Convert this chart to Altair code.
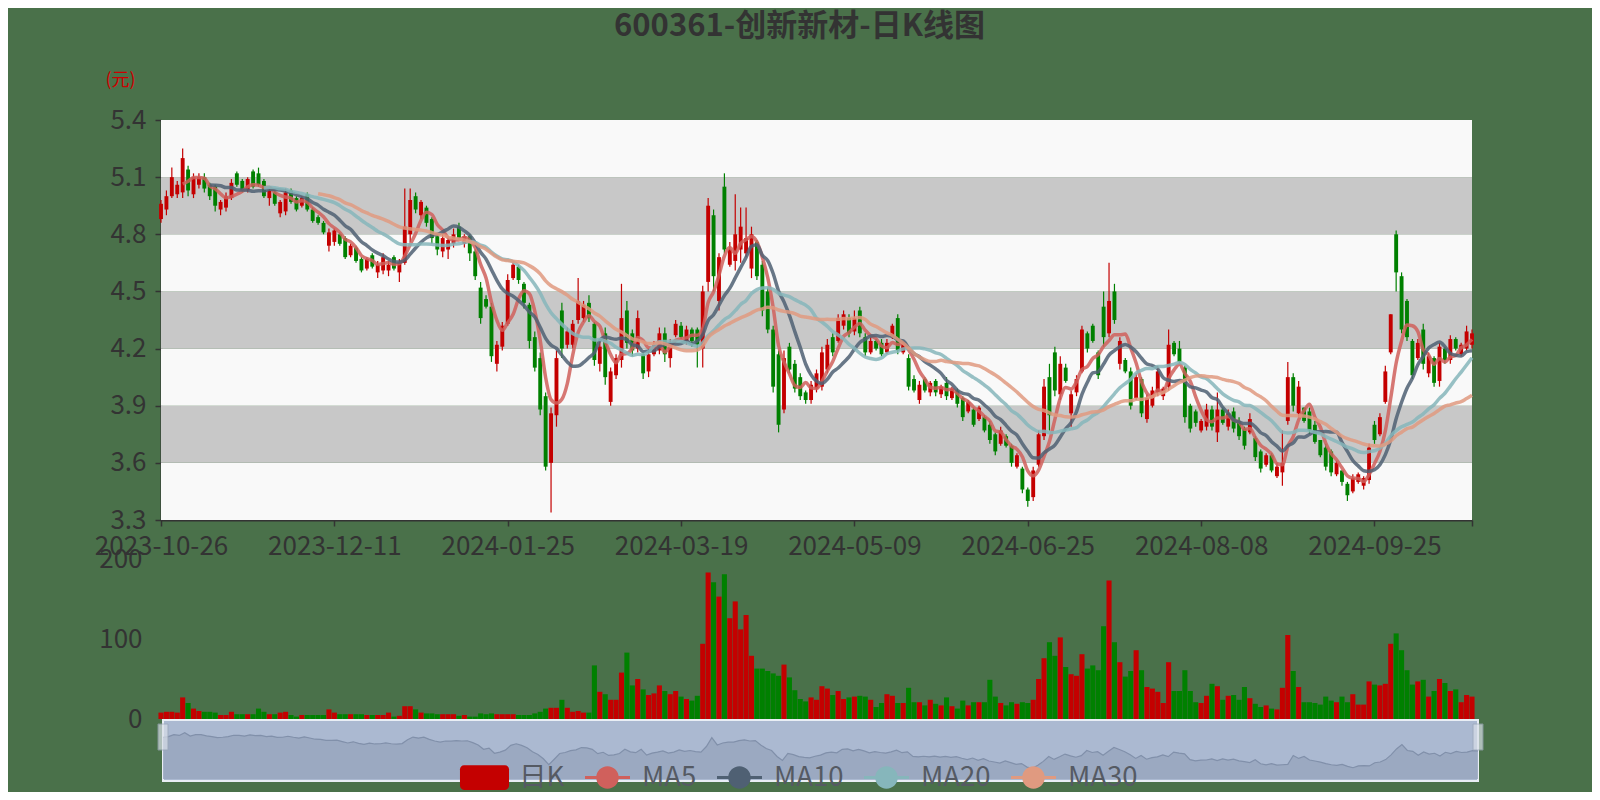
import json
import altair as alt
import pandas as pd

FONT = "Noto Sans CJK SC"

title_text = "600361-创新新材-日K线图"
unit_label = "(元)"
date_labels = ["2023-10-26", "2023-12-11", "2024-01-25", "2024-03-19",
               "2024-05-09", "2024-06-25", "2024-08-08", "2024-09-25"]
label_step = 32
price_ticks = [3.3, 3.6, 3.9, 4.2, 4.5, 4.8, 5.1, 5.4]
volume_ticks = [0, 100, 200]
series_names = ["日K", "MA5", "MA10", "MA20", "MA30"]
ma_windows = [5, 10, 20, 30]

open_ = [4.88, 4.93, 5.00, 5.01, 5.02, 5.14, 5.01, 5.06, 5.10, 5.06,
         5.05, 4.93, 4.94, 4.99, 5.12, 5.08, 5.03, 5.13, 5.12, 5.08,
         4.99, 5.02, 4.91, 4.92, 5.03, 4.99, 4.95, 5.01, 4.93, 4.89,
         4.86, 4.74, 4.76, 4.80, 4.78, 4.69, 4.73, 4.67, 4.62, 4.69,
         4.60, 4.61, 4.61, 4.68, 4.60, 4.65, 4.80, 5.00, 4.90, 4.94,
         4.88, 4.79, 4.71, 4.72, 4.75, 4.84, 4.75, 4.79, 4.71, 4.52,
         4.46, 4.42, 4.12, 4.21, 4.33, 4.57, 4.63, 4.54, 4.43, 4.26,
         4.15, 3.95, 3.60, 3.85, 4.40, 4.22, 4.22, 4.35, 4.36, 4.44,
         4.33, 4.12, 4.28, 3.92, 4.06, 4.14, 4.40, 4.28, 4.20, 4.17,
         4.08, 4.17, 4.19, 4.28, 4.15, 4.27, 4.32, 4.24, 4.30, 4.30,
         4.20, 4.55, 4.90, 4.45, 5.05, 4.64, 4.66, 4.72, 4.70, 4.62,
         4.76, 4.64, 4.50, 4.30, 4.17, 3.88, 4.21, 4.12, 4.05, 3.97,
         3.93, 3.99, 4.00, 4.09, 4.26, 4.24, 4.32, 4.36, 4.29, 4.40,
         4.26, 4.18, 4.24, 4.23, 4.18, 4.26, 4.36, 4.18, 4.15, 4.04,
         3.93, 4.04, 3.97, 4.03, 3.96, 4.02, 3.94, 3.98, 3.94, 3.87,
         3.88, 3.83, 3.84, 3.80, 3.75, 3.70, 3.74, 3.69, 3.58, 3.57,
         3.46, 3.42, 3.59, 3.74, 4.05, 4.18, 3.96, 4.10, 3.86, 3.97,
         4.08, 4.28, 4.32, 4.18, 4.42, 4.28, 4.50, 4.12, 4.14, 4.08,
         3.94, 4.04, 3.83, 3.90, 3.97, 3.95, 4.00, 4.23, 4.20, 4.10,
         3.90, 3.87, 3.77, 3.79, 3.88, 3.76, 3.88, 3.79, 3.87, 3.82,
         3.78, 3.76, 3.73, 3.66, 3.59, 3.64, 3.53, 3.55, 3.82, 4.05,
         3.86, 3.89, 3.87, 3.80, 3.72, 3.68, 3.66, 3.54, 3.56, 3.49,
         3.45, 3.50, 3.48, 3.51, 3.80, 3.75, 3.92, 4.18, 4.80, 4.58,
         4.45, 4.24, 4.15, 4.30, 4.07, 4.15, 4.03, 4.20, 4.14, 4.25,
         4.17, 4.20, 4.22]

close = [4.96, 5.00, 5.10, 5.06, 5.20, 5.03, 5.10, 5.10, 5.04, 5.00,
         4.95, 4.97, 5.00, 5.07, 5.06, 5.03, 5.09, 5.05, 5.06, 5.00,
         5.03, 4.96, 4.97, 5.02, 4.97, 4.93, 4.99, 4.93, 4.87, 4.86,
         4.81, 4.81, 4.82, 4.75, 4.68, 4.74, 4.66, 4.61, 4.67, 4.63,
         4.64, 4.68, 4.64, 4.62, 4.65, 4.84, 4.98, 4.93, 4.97, 4.86,
         4.78, 4.72, 4.78, 4.77, 4.80, 4.78, 4.79, 4.70, 4.58, 4.36,
         4.42, 4.16, 4.22, 4.32, 4.56, 4.64, 4.56, 4.44, 4.24, 4.10,
         3.88, 3.58, 3.86, 4.15, 4.20, 4.29, 4.33, 4.45, 4.43, 4.36,
         4.14, 4.21, 4.05, 4.08, 4.15, 4.36, 4.23, 4.19, 4.36, 4.07,
         4.17, 4.22, 4.28, 4.17, 4.22, 4.33, 4.26, 4.30, 4.24, 4.22,
         4.50, 4.95, 4.58, 4.68, 4.72, 4.72, 4.80, 4.84, 4.78, 4.80,
         4.58, 4.40, 4.30, 4.00, 3.80, 4.15, 4.09, 3.99, 3.95, 3.93,
         4.01, 4.07, 4.18, 4.22, 4.18, 4.36, 4.38, 4.28, 4.36, 4.28,
         4.18, 4.24, 4.20, 4.17, 4.23, 4.32, 4.19, 4.23, 4.00, 3.98,
         4.01, 3.98, 4.02, 3.97, 4.00, 3.95, 3.99, 3.91, 3.84, 3.92,
         3.80, 3.89, 3.77, 3.72, 3.66, 3.77, 3.69, 3.60, 3.64, 3.46,
         3.40, 3.56, 3.75, 4.00, 3.85, 3.98, 4.12, 4.03, 3.96, 4.04,
         4.30, 4.20, 4.24, 4.06, 4.26, 4.45, 4.35, 4.24, 4.08, 3.90,
         4.05, 3.86, 3.94, 3.98, 4.08, 3.99, 4.22, 4.17, 4.13, 3.84,
         3.78, 3.81, 3.82, 3.88, 3.79, 3.88, 3.81, 3.86, 3.78, 3.74,
         3.69, 3.83, 3.63, 3.57, 3.64, 3.56, 3.58, 3.60, 4.05, 3.90,
         4.00, 3.82, 3.77, 3.71, 3.64, 3.58, 3.55, 3.60, 3.50, 3.43,
         3.52, 3.54, 3.52, 3.68, 3.72, 3.84, 4.08, 4.38, 4.60, 4.30,
         4.26, 4.06, 4.23, 4.12, 4.16, 4.02, 4.21, 4.14, 4.25, 4.20,
         4.22, 4.29, 4.28]

high = [4.98, 5.03, 5.15, 5.08, 5.25, 5.16, 5.12, 5.12, 5.12, 5.07,
        5.06, 4.98, 5.02, 5.09, 5.13, 5.09, 5.10, 5.14, 5.15, 5.09,
        5.04, 5.03, 4.98, 5.04, 5.04, 5.00, 5.00, 5.02, 4.94, 4.90,
        4.87, 4.83, 4.83, 4.81, 4.79, 4.75, 4.74, 4.68, 4.68, 4.70,
        4.66, 4.70, 4.66, 4.69, 4.67, 5.04, 5.04, 5.02, 4.98, 4.95,
        4.89, 4.80, 4.80, 4.79, 4.83, 4.86, 4.80, 4.80, 4.72, 4.55,
        4.48, 4.44, 4.24, 4.34, 4.59, 4.66, 4.64, 4.55, 4.44, 4.29,
        4.18, 3.97, 3.89, 4.19, 4.44, 4.31, 4.35, 4.57, 4.45, 4.48,
        4.34, 4.24, 4.31, 4.10, 4.17, 4.54, 4.45, 4.30, 4.40, 4.18,
        4.20, 4.24, 4.31, 4.31, 4.25, 4.35, 4.34, 4.32, 4.31, 4.31,
        4.53, 4.99, 4.93, 4.70, 5.12, 4.76, 5.01, 4.94, 4.94, 4.84,
        4.77, 4.66, 4.52, 4.32, 4.19, 4.19, 4.23, 4.14, 4.07, 3.98,
        4.03, 4.09, 4.21, 4.25, 4.28, 4.38, 4.40, 4.38, 4.40, 4.42,
        4.28, 4.26, 4.25, 4.25, 4.25, 4.33, 4.38, 4.24, 4.17, 4.06,
        4.03, 4.05, 4.03, 4.04, 4.01, 4.05, 4.00, 3.99, 3.95, 3.93,
        3.89, 3.90, 3.85, 3.82, 3.76, 3.79, 3.75, 3.70, 3.65, 3.58,
        3.47, 3.58, 3.77, 4.04, 4.12, 4.21, 4.16, 4.12, 3.98, 4.06,
        4.32, 4.29, 4.33, 4.19, 4.50, 4.65, 4.54, 4.26, 4.15, 4.10,
        4.07, 4.05, 3.96, 4.00, 4.11, 4.00, 4.30, 4.24, 4.24, 4.11,
        3.91, 3.88, 3.83, 3.91, 3.90, 3.97, 3.89, 3.88, 3.89, 3.84,
        3.79, 3.86, 3.74, 3.67, 3.65, 3.65, 3.60, 3.77, 4.13, 4.07,
        4.03, 3.89, 3.89, 3.82, 3.72, 3.70, 3.67, 3.61, 3.56, 3.50,
        3.54, 3.55, 3.53, 3.70, 3.82, 3.86, 4.11, 4.38, 4.82, 4.60,
        4.46, 4.25, 4.25, 4.33, 4.18, 4.16, 4.23, 4.21, 4.27, 4.26,
        4.23, 4.32, 4.30]

low = [4.86, 4.90, 4.99, 4.99, 4.99, 5.00, 4.99, 5.04, 5.02, 4.98,
       4.92, 4.90, 4.92, 4.98, 5.05, 5.02, 5.02, 5.04, 5.05, 4.99,
       4.95, 4.95, 4.89, 4.90, 4.96, 4.92, 4.94, 4.92, 4.86, 4.85,
       4.80, 4.71, 4.74, 4.74, 4.67, 4.68, 4.65, 4.60, 4.61, 4.62,
       4.57, 4.59, 4.58, 4.61, 4.55, 4.64, 4.76, 4.91, 4.88, 4.84,
       4.75, 4.69, 4.68, 4.67, 4.73, 4.77, 4.73, 4.66, 4.56, 4.33,
       4.41, 4.13, 4.08, 4.19, 4.32, 4.56, 4.54, 4.41, 4.20, 4.08,
       3.85, 3.56, 3.34, 3.79, 4.15, 4.20, 4.20, 4.33, 4.34, 4.34,
       4.11, 4.08, 4.01, 3.90, 4.04, 4.10, 4.20, 4.16, 4.18, 4.04,
       4.05, 4.16, 4.17, 4.13, 4.10, 4.26, 4.25, 4.22, 4.21, 4.10,
       4.10, 4.50, 4.50, 4.40, 4.70, 4.63, 4.61, 4.65, 4.68, 4.57,
       4.56, 4.37, 4.28, 3.97, 3.76, 3.86, 4.07, 3.97, 3.93, 3.91,
       3.91, 3.97, 3.98, 4.07, 4.16, 4.23, 4.30, 4.26, 4.27, 4.26,
       4.16, 4.17, 4.19, 4.16, 4.17, 4.25, 4.17, 4.17, 3.98, 3.97,
       3.91, 3.97, 3.95, 3.95, 3.94, 3.93, 3.93, 3.89, 3.82, 3.86,
       3.79, 3.82, 3.76, 3.70, 3.64, 3.69, 3.68, 3.58, 3.57, 3.44,
       3.37, 3.40, 3.58, 3.72, 3.77, 3.95, 3.93, 4.02, 3.79, 3.95,
       4.07, 4.18, 4.23, 4.04, 4.21, 4.26, 4.33, 4.09, 4.07, 3.88,
       3.93, 3.84, 3.81, 3.89, 3.95, 3.93, 3.98, 4.16, 4.12, 3.81,
       3.76, 3.79, 3.76, 3.77, 3.77, 3.71, 3.80, 3.77, 3.76, 3.72,
       3.67, 3.75, 3.61, 3.55, 3.58, 3.55, 3.52, 3.48, 3.80, 3.87,
       3.84, 3.81, 3.75, 3.70, 3.63, 3.56, 3.53, 3.53, 3.48, 3.40,
       3.44, 3.49, 3.46, 3.49, 3.70, 3.74, 3.91, 4.17, 4.50, 4.28,
       4.24, 4.04, 4.14, 4.09, 4.05, 4.00, 4.00, 4.12, 4.12, 4.19,
       4.16, 4.19, 4.20]

volume = [8, 9, 9, 8, 27, 20, 13, 10, 9, 9,
          8, 5, 5, 9, 6, 6, 6, 6, 13, 9,
          6, 6, 8, 9, 5, 3, 5, 5, 5, 5,
          5, 12, 8, 6, 6, 6, 6, 6, 5, 5,
          5, 5, 8, 3, 4, 16, 16, 12, 8, 7,
          7, 6, 6, 6, 6, 4, 5, 3, 3, 7,
          6, 7, 6, 6, 6, 6, 5, 5, 5, 7,
          9, 13, 14, 14, 24, 14, 9, 10, 8, 8,
          67, 34, 31, 24, 24, 58, 83, 42, 50, 37,
          30, 32, 42, 35, 31, 35, 28, 25, 23, 29,
          94, 183, 171, 153, 181, 126, 147, 112, 130, 79,
          63, 63, 60, 57, 54, 68, 52, 36, 25, 22,
          27, 24, 41, 38, 30, 35, 25, 27, 28, 29,
          28, 24, 15, 20, 31, 29, 20, 20, 39, 21,
          21, 17, 24, 19, 17, 27, 16, 13, 23, 17,
          21, 21, 21, 49, 28, 20, 17, 21, 19, 21,
          20, 24, 50, 76, 96, 79, 102, 65, 56, 54,
          81, 63, 67, 61, 116, 173, 96, 71, 53, 60,
          86, 61, 40, 38, 34, 20, 71, 35, 35, 61,
          35, 21, 20, 29, 44, 41, 24, 29, 30, 24,
          40, 26, 19, 15, 17, 13, 12, 39, 105, 60,
          40, 21, 21, 20, 18, 28, 23, 21, 28, 21,
          31, 18, 18, 47, 43, 42, 44, 94, 107, 86,
          61, 43, 47, 49, 28, 35, 50, 45, 35, 37,
          21, 30, 28]

# ---------------- styles ----------------
BG = "#4a714a"
UP = "#c40000"
DOWN = "#008000"
BAND_LIGHT = "#f9f9f9"
BAND_DARK = "#c8c8c8"
MA_COLORS = ["#d0605c", "#4f6073", "#86b6bb", "#e09a80"]
TEXT = "#333333"

W = 1311          # plot width
H = 661           # total layered height (price + volume + slider)
PRICE_H = 400
VOL_TOP, VOL_BOTTOM = 439, 599
SL_TOP, SL_BOTTOM = 600, 661

n = len(close)
df = pd.DataFrame({"i": list(range(n)), "open": open_, "close": close,
                   "high": high, "low": low, "volume": volume})
base = alt.Chart(df)

up_down = alt.when(alt.datum.close >= alt.datum.open).then(alt.value(UP)).otherwise(alt.value(DOWN))

# ---------------- price panel ----------------
x_scale = alt.Scale(domain=[0, n - 1], nice=False, zero=False, padding=0)
label_values = [k * label_step for k in range(len(date_labels))] + [n - 1]
x_axis = alt.Axis(values=label_values,
                  labelExpr=(f"datum.value % {label_step} == 0 ? "
                             f"{json.dumps(date_labels)}[round(datum.value / {label_step})] : ''"),
                  orient="bottom", offset=-(H - PRICE_H), grid=False,
                  domainColor=TEXT, domainWidth=2, tickColor=TEXT, tickWidth=1.5, tickSize=6,
                  labelFontSize=26, labelColor=TEXT, labelFont=FONT, labelPadding=7,
                  labelFlush=False, labelOverlap=False, title=None)
X = alt.X("i:Q", scale=x_scale, axis=x_axis)

price_scale = alt.Scale(domain=[price_ticks[0], price_ticks[-1]], range=[PRICE_H, 0],
                        nice=False, zero=False)
price_axis = alt.Axis(values=price_ticks, format=".1f", orient="left", grid=False,
                      domainColor=TEXT, domainWidth=2, tickColor=TEXT, tickWidth=1.5, tickSize=6,
                      labelFontSize=26, labelColor=TEXT, labelFont=FONT, labelPadding=9,
                      labelFlush=False,
                      title=unit_label, titleAngle=0, titleColor="#cc0000", titleFontSize=18,
                      titleFont=FONT, titleFontWeight="normal", titleX=-41, titleY=-40,
                      titleAlign="center", titleBaseline="middle")

bands_df = pd.DataFrame({"lo": price_ticks[:-1], "hi": price_ticks[1:],
                         "k": list(range(len(price_ticks) - 1))})
bands = alt.Chart(bands_df).mark_rect().encode(
    x=alt.value(0), x2=alt.value(W),
    y=alt.Y("lo:Q", scale=price_scale, axis=price_axis), y2="hi:Q",
    color=alt.when(alt.datum.k % 2 == 0).then(alt.value(BAND_LIGHT)).otherwise(alt.value(BAND_DARK)),
)

wicks = base.mark_rule(strokeWidth=1.2).encode(
    x=X, y=alt.Y("low:Q", scale=price_scale, axis=price_axis), y2="high:Q", color=up_down)
bodies = base.transform_calculate(b0="datum.i - 0.36", b1="datum.i + 0.36").mark_rect().encode(
    x=alt.X("b0:Q", scale=x_scale, axis=x_axis), x2="b1:Q",
    y=alt.Y("open:Q", scale=price_scale, axis=price_axis), y2="close:Q", color=up_down)

ma_layers = []
for w, c in zip(ma_windows, MA_COLORS):
    ma_layers.append(
        base.transform_window(ma="mean(close)", frame=[-(w - 1), 0], sort=[alt.SortField("i")])
        .transform_filter(alt.datum.i >= w - 1)
        .mark_line(color=c, strokeWidth=3.5, opacity=0.85, interpolate="monotone")
        .encode(x=X, y=alt.Y("ma:Q", scale=price_scale, axis=price_axis))
    )

# legend (native Vega legend, custom symbol paths)
rect_path = ("M-0.91,-0.55 L0.91,-0.55 A0.18,0.18 0 0 1 1.09,-0.37 L1.09,0.37 "
             "A0.18,0.18 0 0 1 0.91,0.55 L-0.91,0.55 A0.18,0.18 0 0 1 -1.09,0.37 "
             "L-1.09,-0.37 A0.18,0.18 0 0 1 -0.91,-0.55 Z")
line_path = ("M-1,-0.065 L1,-0.065 L1,0.065 L-1,0.065 Z "
             "M0.5,0 A0.5,0.5 0 1 1 -0.5,0 A0.5,0.5 0 1 1 0.5,0 Z")
legend_props = dict(orient="none", legendX=301, legendY=635, direction="horizontal", title=None,
                    symbolSize=2025, symbolOpacity=1, symbolStrokeWidth=0,
                    labelFontSize=27.5, labelColor="#555a63", labelFont=FONT,
                    labelOffset=12, columnPadding=20)
legend_df = pd.DataFrame({"series": series_names})
legend_layer = alt.Chart(legend_df).mark_point(filled=True, opacity=0).encode(
    x=alt.value(0), y=alt.value(0),
    color=alt.Color("series:N", scale=alt.Scale(domain=series_names, range=[UP] + MA_COLORS),
                    legend=alt.Legend(**legend_props)),
    shape=alt.Shape("series:N", scale=alt.Scale(domain=series_names,
                                                range=[rect_path] + [line_path] * 4),
                    legend=alt.Legend(**legend_props)),
)

price = alt.layer(bands, wicks, bodies, *ma_layers, legend_layer)

# ---------------- volume panel ----------------
vol_scale = alt.Scale(domain=[volume_ticks[0], volume_ticks[-1]], range=[VOL_BOTTOM, VOL_TOP],
                      nice=False, zero=True)
vol_axis = alt.Axis(values=volume_ticks, orient="left", grid=False, domain=False, ticks=False,
                    labelFontSize=26, labelColor=TEXT, labelFont=FONT, labelPadding=19,
                    labelFlush=False, title=None)
vol = base.transform_calculate(x0="datum.i - 0.47", x1="datum.i + 0.47", v0="0").mark_rect().encode(
    x=alt.X("x0:Q", scale=alt.Scale(domain=[0, n - 1], nice=False, zero=False, padding=0),
            axis=None),
    x2="x1:Q",
    y=alt.Y("volume:Q", scale=vol_scale, axis=vol_axis),
    y2="v0:Q",
    color=up_down,
)

# ---------------- data-zoom slider ----------------
sl_x = alt.Scale(domain=[0, n - 1], range=[2, W + 6], nice=False, zero=False, padding=0)
cmin, cmax = min(close), max(close)
pad = (cmax - cmin) * 0.3
sl_lo = cmin - pad
sl_y = alt.Scale(domain=[sl_lo, cmax + pad], range=[SL_BOTTOM - 2, SL_TOP + 2],
                 nice=False, zero=False)
span_df = pd.DataFrame({"s": [0], "e": [n - 1]})
frame = alt.Chart(span_df).mark_rect(fill="#abb9d1", stroke="#e9eef5", strokeWidth=2).encode(
    x=alt.X("s:Q", scale=sl_x, axis=None), x2="e:Q",
    y=alt.value(SL_TOP), y2=alt.value(SL_BOTTOM))
shadow = base.transform_calculate(sb=f"{sl_lo}").mark_area(
    color="#98a6be", opacity=0.85, line={"color": "#8190aa", "strokeWidth": 1.2}).encode(
    x=alt.X("i:Q", scale=sl_x, axis=None),
    y=alt.Y("close:Q", scale=sl_y, axis=None),
    y2="sb:Q")
handles_df = pd.DataFrame({"h": [0, n - 1]})
handles = alt.Chart(handles_df).mark_tick(thickness=10, size=26, color="#d9dfe8",
                                          stroke="#9aa6b8", strokeWidth=1).encode(
    x=alt.X("h:Q", scale=sl_x, axis=None), y=alt.value(SL_TOP + 17))
slider = alt.layer(frame, shadow, handles)

chart = (
    alt.layer(price, vol, slider)
    .resolve_scale(x="independent", y="independent")
    .properties(
        width=W, height=H,
        title=alt.TitleParams(text=title_text, fontSize=31, font=FONT, fontWeight="bold",
                              color=TEXT, anchor="middle", frame="group", dx=-17,
                              offset=4, baseline="alphabetic"),
        background=BG,
        padding={"left": 153, "top": 112, "right": 120, "bottom": 11},
        autosize=alt.AutoSizeParams(type="none"),
    )
    .configure(font=FONT)
    .configure_view(strokeWidth=0, stroke="transparent")
)

chart.save("out.html", embed_options={"renderer": "svg", "actions": False})
